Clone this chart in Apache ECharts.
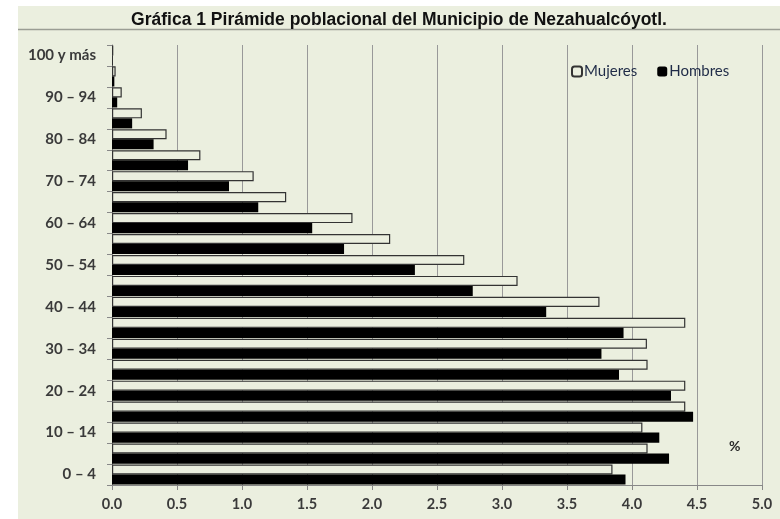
<!DOCTYPE html>
<html><head><meta charset="utf-8">
<script src="https://cdn.jsdelivr.net/npm/echarts@6/dist/echarts.min.js"></script>
<style>
html,body{margin:0;padding:0;background:#fff;width:780px;height:519px;overflow:hidden;}
#c{position:absolute;left:18px;top:6px;width:762px;height:513px;background:#EBEFDF;}
</style></head><body>
<div id="c"></div>
<script>
const categories = ['0 – 4','5 – 9','10 – 14','15 – 19','20 – 24','25 – 29','30 – 34','35 – 39','40 – 44','45 – 49','50 – 54','55 – 59','60 – 64','65 – 69','70 – 74','75 – 79','80 – 84','85 – 89','90 – 94','95 – 99','100 y más'];
const mujeres = [3.85,4.12,4.08,4.41,4.41,4.12,4.115,4.41,3.75,3.12,2.71,2.14,1.85,1.34,1.09,0.68,0.42,0.23,0.075,0.028,0.01];
const hombres = [3.95,4.285,4.21,4.47,4.30,3.90,3.765,3.935,3.34,2.775,2.33,1.785,1.54,1.125,0.90,0.585,0.32,0.155,0.04,0.018,0.005];
const xTicks = [0,0.5,1,1.5,2,2.5,3,3.5,4,4.5,5];

const bg = '#EBEFDF';
const chart = echarts.init(document.getElementById('c'));
chart.setOption({
  animation:false,
  backgroundColor: bg,
  title:{text:'Gráfica 1 Pirámide poblacional del Municipio de Nezahualcóyotl.',left:'center',top:0,
    textStyle:{fontFamily:'Liberation Sans, Arial',fontWeight:'bold',fontSize:17.5,color:'#111'}},
  graphic:[
    {type:'line',shape:{x1:0,y1:23.5,x2:762,y2:23.5},style:{stroke:'#9a9d94',lineWidth:1.5}},
    {type:'text',left:711,top:433,style:{text:'%',font:'bold 14px Lato',fill:'#2a2a2a'}}
  ],
  legend:{left:548,top:53,itemWidth:10,itemHeight:10,itemGap:20,
    textStyle:{fontFamily:'Lato',fontSize:15,color:'#1f2b47',padding:[0,0,0,-3]},
    data:['Mujeres','Hombres']},
  grid:{left:94,right:18,top:39,bottom:34},
  xAxis:{type:'value',min:0,max:5,interval:0.5,
    axisLine:{show:true,lineStyle:{color:'#888',width:1}},
    axisTick:{show:true,length:5,lineStyle:{color:'#888'}},
    splitLine:{show:true,lineStyle:{color:'#999',width:1}},
    axisLabel:{margin:12,fontFamily:'Lato',fontWeight:'bold',fontSize:14.5,color:'#3a3a3a',
      formatter:v=>v.toFixed(1)}},
  yAxis:{type:'category',data:categories,
    axisLine:{show:true,lineStyle:{color:'#888',width:1}},
    axisTick:{show:true,length:5,interval:0,lineStyle:{color:'#888'}},
    axisLabel:{margin:16,fontFamily:'Lato',fontWeight:'bold',fontSize:15,color:'#3a3a3a',
      interval:(i)=>i%2===0}},
  series:[
    {name:'Mujeres',type:'bar',data:mujeres,barGap:'0%',barCategoryGap:'4%',
     itemStyle:{color:bg,borderColor:'#333',borderWidth:1.2}},
    {name:'Hombres',type:'bar',data:hombres,barGap:'0%',barCategoryGap:'4%',
     itemStyle:{color:'#000'}}
  ]
});
</script></body></html>
